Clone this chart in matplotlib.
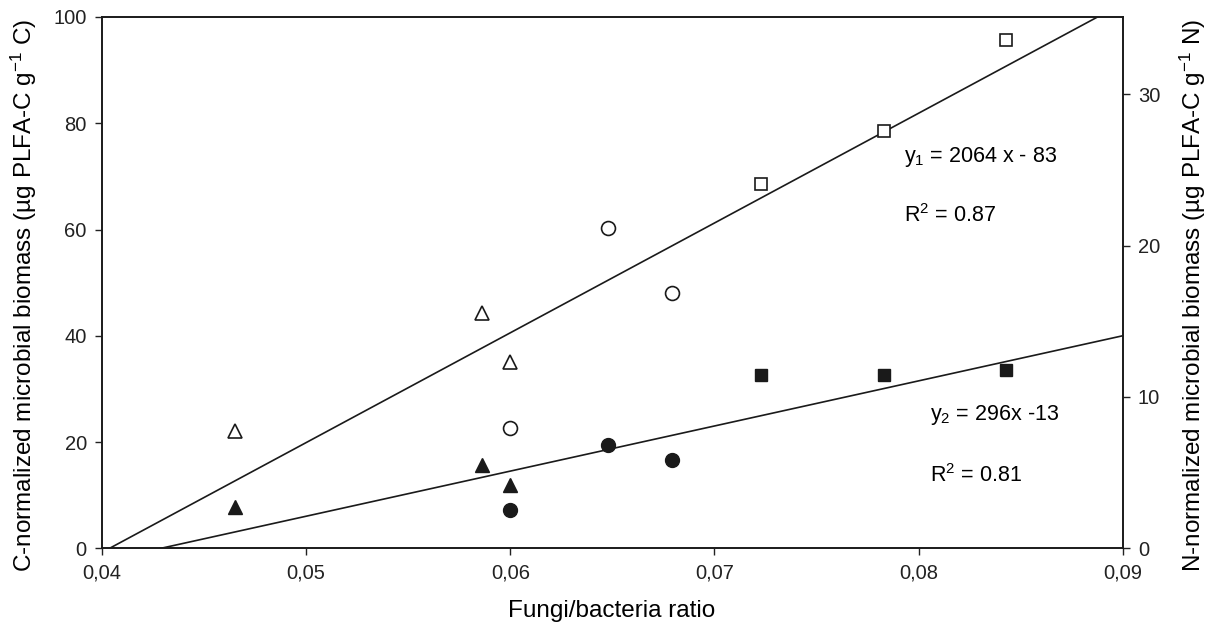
import numpy as np
import matplotlib
matplotlib.use("Agg")
import matplotlib.pyplot as plt
from matplotlib.ticker import FuncFormatter

plt.rcParams['font.family'] = ['Liberation Sans', 'DejaVu Sans']
plt.rcParams['mathtext.default'] = 'regular'

# fungi/bacteria ratio for each group of plots
fb_tri = [0.0465, 0.0586, 0.0600]
fb_circ = [0.0600, 0.0648, 0.0679]
fb_sq = [0.0723, 0.0783, 0.0843]

# C-normalized biomass (left axis, open symbols)
c_tri = [22.1, 44.2, 35.1]
c_circ = [22.7, 60.3, 48.1]
c_sq = [68.6, 78.5, 95.7]

# N-normalized biomass (right axis, filled symbols)
n_tri = [2.71, 5.51, 4.19]
n_circ = [2.53, 6.83, 5.82]
n_sq = [11.48, 11.42, 11.77]

# regression lines  y = a*x + b
a1, b1 = 2066, -83.4
a2, b2 = 298, -12.78

xticks = [0.04, 0.05, 0.06, 0.07, 0.08, 0.09]
yticks_c = [0, 20, 40, 60, 80, 100]
yticks_n = [0, 10, 20, 30]

fig = plt.figure(figsize=(12.15, 6.24), dpi=100)
ax = fig.add_axes([0.084, 0.1213, 0.84, 0.8515])
ax2 = ax.twinx()

col = '#1a1a1a'
xx = np.array([0.04, 0.09])
ax.plot(xx, a1 * xx + b1, color=col, lw=1.2)
ax2.plot(xx, a2 * xx + b2, color=col, lw=1.2)

# open symbols -> C normalized
ax.plot(fb_tri, c_tri, '^', ms=10, mfc='white', mec=col, mew=1.2, ls='none')
ax.plot(fb_circ, c_circ, 'o', ms=10, mfc='white', mec=col, mew=1.2, ls='none')
ax.plot(fb_sq, c_sq, 's', ms=8.5, mfc='white', mec=col, mew=1.2, ls='none')

# filled symbols -> N normalized
ax2.plot(fb_tri, n_tri, '^', ms=10, color=col, ls='none')
ax2.plot(fb_circ, n_circ, 'o', ms=10, color=col, ls='none')
ax2.plot(fb_sq, n_sq, 's', ms=9, color=col, ls='none')

ax.set_xlim(0.04, 0.09)
ax.set_ylim(0, 100)
ax2.set_ylim(0, 35.1)

comma = FuncFormatter(lambda v, p: ('%.2f' % v).replace('.', ','))
ax.set_xticks(xticks)
ax.xaxis.set_major_formatter(comma)
ax.set_yticks(yticks_c)
ax2.set_yticks(yticks_n)

for a in (ax, ax2):
    a.tick_params(direction='out', length=5, width=1, labelsize=14.5, pad=6, colors='#222222')
    for s in a.spines.values():
        s.set_linewidth(1.2)
        s.set_color(col)

ax.set_xlabel('Fungi/bacteria ratio', fontsize=17.5)
ax.set_ylabel('C-normalized microbial biomass (µg PLFA-C g$^{-1}$ C)', fontsize=17.5)
ax2.set_ylabel('N-normalized microbial biomass (µg PLFA-C g$^{-1}$ N)', fontsize=17.5)
ax.xaxis.set_label_coords(0.4997, -0.097)
ax.yaxis.set_label_coords(-0.062, 0.477)
ax2.yaxis.set_label_coords(1.0542, 0.477)

ax.text(0.0793, 73.6, 'y$_1$ = 2064 x - 83', fontsize=15.5, va='center')
ax.text(0.0793, 62.6, 'R$^2$ = 0.87', fontsize=15.5, va='center')
ax.text(0.08055, 25.1, 'y$_2$ = 296x -13', fontsize=15.5, va='center')
ax.text(0.08055, 13.7, 'R$^2$ = 0.81', fontsize=15.5, va='center')

fig.savefig('out.png', dpi=100)
